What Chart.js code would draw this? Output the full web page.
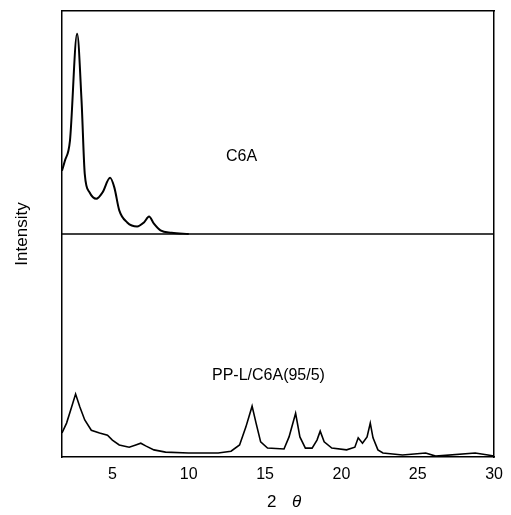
<!DOCTYPE html>
<html lang="en">
<head>
  <meta charset="UTF-8" />
  <title>XRD - C6A</title>
  <script src="https://cdn.jsdelivr.net/npm/chart.js"></script>
  <style>
    body { margin: 0; background: #fff; }
    #wrap { width: 511px; height: 515px; position: relative; }
  </style>
</head>
<body>
<div id="wrap"><canvas id="xrd"></canvas></div>
<script>
  // 2-theta range and tick labels
  const xMin = 1.7, xMax = 30;
  const xTicks = [5, 10, 15, 20, 25, 30];

  // C6A trace (offset upward, baseline at 50)
  const c6aX = [1.7, 1.89, 2.22, 2.69, 2.98, 3.19, 3.51, 3.95, 4.35, 4.85, 5.13, 5.45, 5.97, 6.62, 7.07, 7.4, 7.72, 8.15, 8.88, 10];
  const c6aY = [64.2, 66.4, 70.9, 94.9, 79.9, 63.5, 59.3, 57.9, 59.3, 62.6, 60.4, 55.3, 52.6, 51.7, 52.6, 53.9, 52.3, 50.8, 50.3, 50];

  // PP-L/C6A(95/5) trace
  const ppX = [1.7, 2.0, 2.33, 2.59, 2.87, 3.19, 3.62, 4.16, 4.68, 5.0, 5.45, 6.1, 6.53, 6.86, 7.18, 7.72, 8.48, 9.98, 11.93, 12.77, 13.33, 13.74, 14.15, 14.41, 14.71, 15.16, 16.24, 16.57, 17.0, 17.28, 17.64, 18.08, 18.4, 18.61, 18.87, 19.37, 20.34, 20.88, 21.1, 21.38, 21.68, 21.89, 22.07, 22.39, 22.72, 24.0, 25.52, 26.17, 28.76, 29.6, 30];
  const ppY = [5.4, 7.6, 11.2, 14.1, 11.2, 8.3, 6.0, 5.4, 4.9, 3.8, 2.7, 2.2, 2.7, 3.1, 2.5, 1.6, 1.1, 0.9, 0.9, 1.3, 2.7, 6.7, 11.4, 7.6, 3.4, 2.0, 1.8, 4.5, 9.8, 4.5, 2.0, 2.0, 3.8, 5.8, 3.4, 2.0, 1.6, 2.2, 4.3, 3.1, 4.5, 7.6, 4.3, 1.6, 0.9, 0.45, 0.9, 0.2, 0.9, 0.45, 0.2];

  // separator between the two patterns
  const sepX = [xMin, xMax];
  const sepY = [50, 50];

  const toPts = (xs, ys) => xs.map((x, i) => ({ x: x, y: ys[i] }));

  const labelPlugin = {
    id: 'labels',
    afterDraw(chart) {
      const c = chart.ctx;
      c.save();
      c.fillStyle = '#000';
      c.textBaseline = 'middle';
      c.font = '16px "Liberation Sans", Arial, sans-serif';
      c.fillText('C6A', 226, 157);
      c.fillText('PP-L/C6A(95/5)', 212, 376);
      c.font = '17px "Liberation Sans", Arial, sans-serif';
      c.fillText('2', 267, 502);
      c.font = 'italic 17px "Liberation Sans", Arial, sans-serif';
      c.fillText('\u03b8', 292, 502);
      c.restore();
    }
  };

  const lineDs = (pts, w, mode) => ({
    data: pts,
    borderColor: '#000',
    borderWidth: w,
    pointRadius: 0,
    showLine: true,
    fill: false,
    cubicInterpolationMode: mode
  });

  const frame = { display: true, color: '#000', width: 1.5 };

  new Chart(document.getElementById('xrd'), {
    type: 'scatter',
    data: {
      datasets: [
        lineDs(toPts(c6aX, c6aY), 2, 'monotone'),
        lineDs(toPts(ppX, ppY), 1.6, 'default'),
        lineDs(toPts(sepX, sepY), 1.5, 'default')
      ]
    },
    options: {
      responsive: true,
      maintainAspectRatio: false,
      animation: false,
      layout: { padding: 0 },
      plugins: { legend: { display: false }, tooltip: { enabled: false } },
      scales: {
        x: {
          type: 'linear', position: 'bottom', min: xMin, max: xMax,
          afterBuildTicks: s => { s.ticks = xTicks.map(v => ({ value: v })); },
          afterFit: s => { s.height = 58; },
          grid: { display: false, drawTicks: false },
          border: frame,
          ticks: { color: '#000', padding: 8, font: { size: 16, family: '"Liberation Sans", Arial, sans-serif' } }
        },
        y: {
          type: 'linear', position: 'left', min: 0, max: 100,
          afterFit: s => { s.width = 62; },
          grid: { display: false, drawTicks: false },
          border: frame,
          ticks: { display: false },
          title: {
            display: true, text: 'Intensity', color: '#000',
            padding: { top: 14, bottom: 0 },
            font: { size: 17, family: '"Liberation Sans", Arial, sans-serif', lineHeight: 1 }
          }
        },
        x2: {
          type: 'linear', position: 'top', min: 0, max: 1,
          afterFit: s => { s.height = 11; },
          grid: { display: false, drawTicks: false },
          border: frame,
          ticks: { display: false }
        },
        y2: {
          type: 'linear', position: 'right', min: 0, max: 1,
          afterFit: s => { s.width = 10; },
          grid: { display: false, drawTicks: false },
          border: frame,
          ticks: { display: false }
        }
      }
    },
    plugins: [labelPlugin]
  });
</script>
</body>
</html>
